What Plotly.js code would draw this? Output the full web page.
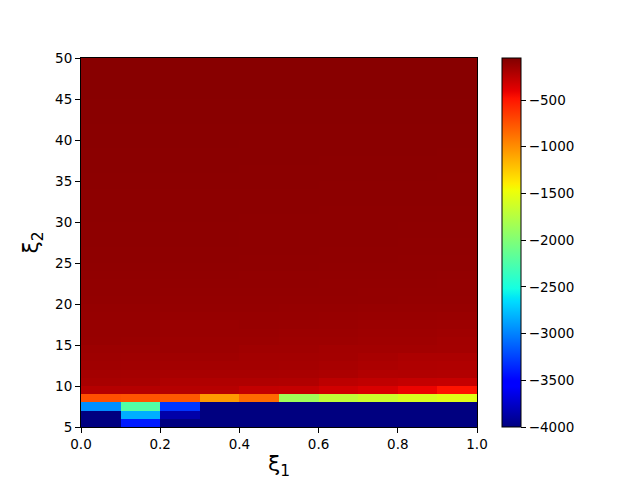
<!DOCTYPE html>
<html>
<head>
<meta charset="utf-8">
<script src="https://cdn.plot.ly/plotly-3.0.1.min.js"></script>
<style>
  html, body { margin: 0; padding: 0; background: #fff; }
  #chart { width: 640px; height: 480px; }
</style>
</head>
<body>
<div id="chart"></div>
<script>
// cell centres along xi_1 (10 columns) and xi_2 (45 rows)
const xi1 = [0.05, 0.15, 0.25, 0.35, 0.45, 0.55, 0.65, 0.75, 0.85, 0.95];
const xi2 = [5.5, 6.5, 7.5, 8.5, 9.5, 10.5, 11.5, 12.5, 13.5, 14.5,
  15.5, 16.5, 17.5, 18.5, 19.5, 20.5, 21.5, 22.5, 23.5, 24.5,
  25.5, 26.5, 27.5, 28.5, 29.5, 30.5, 31.5, 32.5, 33.5, 34.5,
  35.5, 36.5, 37.5, 38.5, 39.5, 40.5, 41.5, 42.5, 43.5, 44.5,
  45.5, 46.5, 47.5, 48.5, 49.5];

// one row per xi_2 cell, bottom row first
const values = [
  [-4000, -3400, -4000, -4000, -4000, -4000, -4000, -4000, -4000, -4000],
  [-4000, -2830, -3860, -4000, -4000, -4000, -4000, -4000, -4000, -4000],
  [-2950, -2230, -3300, -4000, -4000, -4000, -4000, -4000, -4000, -4000],
  [-740, -755, -775, -1045, -850, -1850, -1700, -1640, -1580, -1540],
  [-230, -232, -236, -238, -280, -285, -325, -355, -420, -485],
  [-188, -190, -212, -215, -215, -218, -256, -270, -283, -290],
  [-174, -175, -186, -188, -188, -190, -202, -222, -218, -220],
  [-161, -162, -168, -174, -174, -175, -188, -202, -212, -215],
  [-154, -155, -161, -161, -168, -168, -174, -188, -200, -202],
  [-147, -147, -147, -148, -161, -161, -168, -168, -168, -174],
  [-133, -134, -147, -147, -147, -154, -154, -161, -161, -168],
  [-127, -128, -140, -140, -140, -147, -147, -154, -154, -161],
  [-127, -127, -140, -140, -133, -135, -140, -147, -147, -150],
  [-124, -124, -128, -128, -128, -130, -132, -136, -136, -138],
  [-121, -121, -122, -122, -123, -124, -126, -128, -129, -130],
  [-116, -116, -117, -117, -117, -118, -119, -120, -121, -123],
  [-113, -113, -114, -114, -115, -115, -116, -118, -119, -120],
  [-111, -111, -111, -112, -112, -113, -114, -115, -116, -118],
  [-108, -108, -109, -109, -110, -110, -111, -112, -113, -115],
  [-103, -103, -103, -103, -105, -105, -107, -107, -109, -109],
  [-102, -102, -102, -102, -103, -103, -105, -105, -107, -107],
  [-100, -100, -100, -100, -102, -102, -103, -103, -105, -105],
  [-99, -99, -99, -99, -101, -101, -102, -102, -104, -104],
  [-98, -98, -98, -98, -100, -100, -101, -101, -102, -102],
  [-97, -97, -97, -97, -98, -98, -99, -99, -100, -100],
  [-96, -96, -96, -96, -97, -97, -98, -98, -99, -99],
  [-95, -95, -95, -95, -96, -96, -97, -97, -98, -98],
  [-94, -94, -94, -94, -95, -95, -95, -95, -96, -96],
  [-93, -93, -93, -93, -94, -94, -94, -94, -95, -95],
  [-92, -92, -92, -92, -92, -92, -93, -93, -93, -94],
  [-90, -90, -90, -90, -91, -91, -92, -92, -92, -93],
  [-88, -88, -88, -88, -90, -90, -91, -91, -91, -92],
  [-87, -87, -87, -87, -88, -88, -90, -90, -90, -91],
  [-86, -86, -86, -86, -87, -87, -88, -88, -88, -90],
  [-85, -85, -85, -85, -86, -86, -87, -87, -87, -88],
  [-84, -84, -84, -84, -84, -84, -84, -84, -84, -84],
  [-83, -83, -83, -83, -83, -83, -83, -83, -83, -83],
  [-82, -82, -82, -82, -82, -82, -82, -82, -82, -82],
  [-81, -81, -81, -81, -81, -81, -81, -81, -81, -81],
  [-80, -80, -80, -80, -80, -80, -80, -80, -80, -80],
  [-79, -79, -79, -79, -79, -79, -79, -79, -79, -79],
  [-78, -78, -78, -78, -78, -78, -78, -78, -78, -78],
  [-78, -78, -78, -78, -78, -78, -78, -78, -78, -78],
  [-77, -77, -77, -77, -77, -77, -77, -77, -77, -77],
  [-76, -76, -76, -76, -76, -76, -76, -76, -76, -76],
];

// matplotlib "jet" (plotly's built-in Jet is a different ramp)
const jet = [
  [0, "rgb(0,0,128)"],
  [0.11, "rgb(0,0,255)"],
  [0.125, "rgb(0,0,255)"],
  [0.34, "rgb(0,219,255)"],
  [0.35, "rgb(0,230,247)"],
  [0.375, "rgb(21,255,226)"],
  [0.64, "rgb(239,255,8)"],
  [0.65, "rgb(247,246,0)"],
  [0.66, "rgb(255,236,0)"],
  [0.89, "rgb(255,19,0)"],
  [0.91, "rgb(232,0,0)"],
  [1, "rgb(128,0,0)"],
];

const font = { family: "DejaVu Sans", size: 13.5, color: "#000" };

const trace = {
  type: "heatmap",
  x: xi1,
  y: xi2,
  z: values,
  zmin: -4000,
  zmax: -50,
  colorscale: jet,
  zsmooth: false,
  hoverinfo: "x+y+z",
  colorbar: {
    x: 1.063,
    xanchor: "left",
    y: 0.5,
    yanchor: "middle",
    len: 1,
    lenmode: "fraction",
    thickness: 19,
    thicknessmode: "pixels",
    outlinewidth: 1,
    outlinecolor: "#000",
    tick0: -4000,
    dtick: 500,
    ticks: "outside",
    ticklen: 5,
    tickwidth: 1,
    tickcolor: "#000",
    tickfont: font,
    xpad: 0,
    ypad: 0,
  },
};

const axisCommon = {
  showgrid: false,
  zeroline: false,
  showline: true,
  mirror: true,
  linecolor: "#000",
  linewidth: 1,
  ticks: "outside",
  ticklen: 5,
  tickwidth: 1,
  tickcolor: "#000",
  tickfont: font,
};

const layout = {
  width: 640,
  height: 480,
  margin: { l: 81, r: 163, t: 58, b: 53 },
  paper_bgcolor: "#fff",
  plot_bgcolor: "#fff",
  font: font,
  xaxis: {
    ...axisCommon,
    range: [0, 1],
    tick0: 0,
    dtick: 0.2,
    tickformat: ".1f",
    title: { text: "ξ<sub>1</sub>", font: { family: "DejaVu Sans", size: 22 }, standoff: 10 },
  },
  yaxis: {
    ...axisCommon,
    range: [5, 50],
    tick0: 5,
    dtick: 5,
    title: { text: "ξ<sub>2</sub>", font: { family: "DejaVu Sans", size: 22 }, standoff: 10 },
  },
};

Plotly.newPlot("chart", [trace], layout, { displayModeBar: false, staticPlot: true });
</script>
</body>
</html>
